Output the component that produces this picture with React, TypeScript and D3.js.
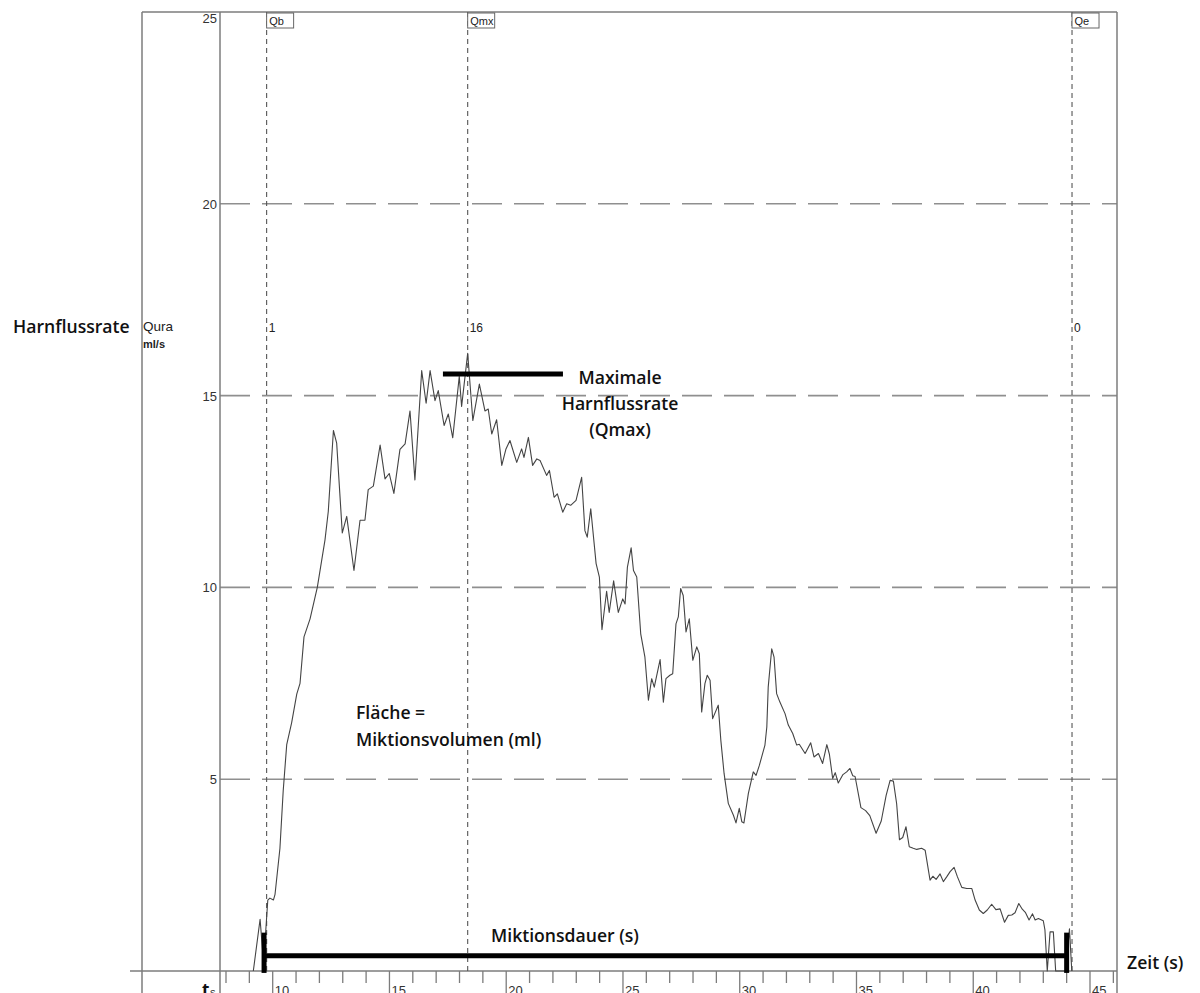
import React from 'react';
import * as d3 from 'd3';

// Uroflowmetry trace: time (s) vs. urine flow rate (ml/s)
const timeS = [
  9.17, 9.46, 9.61, 9.79, 9.88, 10.03, 10.1, 10.31, 10.45, 10.6, 10.81, 11.03, 11.17, 11.34, 11.6, 11.91,
  12.24, 12.38, 12.6, 12.74, 12.98, 13.17, 13.48, 13.74, 13.95, 14.09, 14.31, 14.6, 14.81, 14.99, 15.19,
  15.45, 15.67, 15.88, 16.09, 16.38, 16.57, 16.74, 16.95, 17.09, 17.34, 17.52, 17.71, 17.99, 18.09, 18.35,
  18.57, 18.85, 19.09, 19.23, 19.38, 19.59, 19.81, 19.99, 20.16, 20.45, 20.66, 20.76, 20.95, 21.13, 21.31,
  21.45, 21.73, 21.85, 22.05, 22.19, 22.42, 22.59, 22.76, 22.99, 23.23, 23.37, 23.47, 23.62, 23.85, 23.99,
  24.1, 24.3, 24.41, 24.6, 24.8, 24.99, 25.09, 25.19, 25.35, 25.45, 25.59, 25.76, 25.94, 26.09, 26.23,
  26.34, 26.59, 26.73, 26.84, 27.01, 27.13, 27.27, 27.37, 27.47, 27.58, 27.7, 27.84, 27.99, 28.16, 28.27,
  28.37, 28.51, 28.61, 28.73, 28.84, 29.08, 29.19, 29.33, 29.51, 29.73, 29.84, 29.98, 30.09, 30.18, 30.37,
  30.58, 30.7, 30.84, 31.08, 31.16, 31.22, 31.37, 31.47, 31.58, 31.72, 31.94, 32.08, 32.27, 32.44, 32.55,
  32.8, 33.04, 33.18, 33.37, 33.55, 33.73, 33.84, 33.98, 34.09, 34.22, 34.42, 34.58, 34.72, 34.84, 34.94,
  35.19, 35.39, 35.57, 35.84, 36.06, 36.27, 36.44, 36.58, 36.72, 36.84, 36.98, 37.12, 37.26, 37.43, 37.58,
  37.79, 37.94, 38.15, 38.27, 38.41, 38.58, 38.72, 38.87, 39.01, 39.18, 39.32, 39.51, 39.72, 39.94, 40.08,
  40.26, 40.43, 40.6, 40.79, 40.97, 41.15, 41.34, 41.5, 41.65, 41.79, 41.95, 42.1, 42.24, 42.39, 42.54,
  42.65, 42.79, 43.0, 43.07, 43.17, 43.29, 43.43, 43.53, 43.97, 44.12, 44.22,
];

const flowMlS = [
  0, 1.35, 0.2, 1.85, 1.9, 1.85, 2.0, 3.2, 4.7, 5.9, 6.47, 7.22, 7.5, 8.71, 9.18, 10.0,
  11.24, 11.98, 14.09, 13.76, 11.42, 11.85, 10.44, 11.75, 11.75, 12.55, 12.64, 13.71, 12.83, 12.97, 12.45,
  13.6, 13.74, 14.6, 12.8, 15.65, 14.8, 15.65, 14.87, 15.13, 14.22, 14.52, 13.9, 15.5, 14.72, 16.1,
  14.35, 15.3, 14.6, 14.65, 14.0, 14.37, 13.18, 13.61, 13.83, 13.26, 13.61, 13.39, 13.91, 13.18, 13.35,
  13.31, 12.92, 13.05, 12.35, 12.44, 11.96, 12.18, 12.14, 12.27, 12.87, 11.48, 11.31, 12.05, 10.62, 10.27,
  8.9, 9.9, 9.35, 10.17, 9.35, 9.7, 9.57, 10.53, 11.03, 10.44, 10.27, 8.79, 8.18, 7.06, 7.62,
  7.4, 8.12, 7.01, 7.62, 7.71, 7.75, 9.05, 9.23, 9.97, 9.79, 8.84, 9.18, 8.1, 8.45, 8.27,
  6.75, 7.49, 7.71, 7.58, 6.58, 6.93, 6.02, 5.15, 4.37, 4.06, 3.86, 4.24, 3.89, 3.86, 4.63,
  5.19, 5.1, 5.36, 5.89, 6.36, 7.4, 8.4, 8.18, 7.23, 7.01, 6.71, 6.41, 6.19, 5.89, 5.91,
  5.67, 5.95, 5.58, 5.67, 5.41, 5.9, 5.65, 5.02, 5.17, 4.9, 5.12, 5.19, 5.28, 5.09, 5.07,
  4.26, 4.18, 4.05, 3.59, 3.91, 4.58, 4.97, 4.95, 4.36, 3.42, 3.48, 3.76, 3.24, 3.2, 3.17,
  3.2, 3.15, 2.37, 2.47, 2.39, 2.53, 2.33, 2.46, 2.59, 2.7, 2.46, 2.18, 2.15, 2.15, 1.85,
  1.59, 1.5, 1.59, 1.74, 1.6, 1.62, 1.27, 1.45, 1.46, 1.52, 1.76, 1.61, 1.52, 1.33, 1.49,
  1.33, 1.37, 1.31, 1.07, 0, 1.02, 1.02, 0, 0, 1.1, 0,
];

const yTicks = [5, 10, 15, 20, 25];
const yGridValues = [5, 10, 15, 20];
const xMajorTicks = [10, 15, 20, 25, 30, 35, 40, 45];
const xMinorTicks = d3.range(8, 47);

// Event markers: flow begin, maximum flow, flow end
const markerLabels = ['Qb', 'Qmx', 'Qe'];
const markerTimes = [9.74, 18.35, 44.23];
const markerValues = ['1', '16', '0'];

// Qmax bar and voiding duration bar
const qmaxLevel = 15.56;
const qmaxFrom = 17.29;
const qmaxTo = 22.43;
const voidStart = 9.63;
const voidEnd = 44.0;
const durationLevel = 0.4;
const durationCapLow = -0.05;
const durationCapHigh = 1.0;

const W = 1200;
const H = 993;
const FRAME_LEFT = 142;
const AXIS_X = 220;
const FRAME_RIGHT = 1117;
const FRAME_TOP = 12;
const AXIS_Y = 971;

const ANNO_FONT = '"Open Sans", "Noto Sans", sans-serif';
const NUM_FONT = '"Liberation Sans", Arial, sans-serif';

export default function App() {
  const x = d3.scaleLinear().domain([10, 45]).range([272.7, 1090]);
  const y = d3.scaleLinear().domain([0, 25]).range([AXIS_Y, FRAME_TOP]);

  const line = d3
    .line<number>()
    .x((_, i) => x(timeS[i]))
    .y((d) => y(d));
  const path = line(flowMlS) || '';

  const frameColor = '#7c7c7c';
  const gridColor = '#8f8f8f';

  return (
    <svg
      width={W}
      height={H}
      style={{ position: 'absolute', left: 0, top: 0, background: '#fff' }}
    >
      {/* horizontal dashed gridlines */}
      {yGridValues.map((v) => (
        <line
          key={'g' + v}
          x1={AXIS_X}
          x2={FRAME_RIGHT}
          y1={y(v)}
          y2={y(v)}
          stroke={gridColor}
          strokeWidth={1.6}
          strokeDasharray="30 12"
        />
      ))}

      {/* frame and axes */}
      <line x1={FRAME_LEFT} x2={FRAME_RIGHT} y1={FRAME_TOP} y2={FRAME_TOP} stroke={frameColor} strokeWidth={1.5} />
      <line x1={FRAME_LEFT} x2={FRAME_LEFT} y1={FRAME_TOP} y2={H} stroke={frameColor} strokeWidth={1.5} />
      <line x1={AXIS_X} x2={AXIS_X} y1={FRAME_TOP} y2={H} stroke={frameColor} strokeWidth={1.5} />
      <line x1={FRAME_RIGHT} x2={FRAME_RIGHT} y1={FRAME_TOP} y2={H} stroke={frameColor} strokeWidth={1.5} />
      <line x1={130} x2={FRAME_RIGHT} y1={AXIS_Y} y2={AXIS_Y} stroke={frameColor} strokeWidth={1.5} />

      {/* y tick labels */}
      {yTicks.map((v) => (
        <text
          key={'yt' + v}
          x={AXIS_X - 3}
          y={Math.max(y(v), 18) + 5}
          textAnchor="end"
          fontFamily={NUM_FONT}
          fontSize={13}
          fill="#333"
        >
          {v}
        </text>
      ))}

      {/* x ticks */}
      {xMinorTicks.map((t) => (
        <line
          key={'xm' + t}
          x1={x(t)}
          x2={x(t)}
          y1={AXIS_Y}
          y2={xMajorTicks.includes(t) ? H : AXIS_Y + 12}
          stroke={frameColor}
          strokeWidth={1.3}
        />
      ))}
      {xMajorTicks.map((t) => (
        <text key={'xl' + t} x={x(t) + 2} y={995} fontFamily={NUM_FONT} fontSize={13} fill="#333">
          {t}
        </text>
      ))}
      <text x={202} y={996} fontFamily={ANNO_FONT} fontWeight={700} fontSize={17} fill="#111">
        t
      </text>
      <text x={210} y={996} fontFamily={NUM_FONT} fontSize={11} fill="#333">
        s
      </text>

      {/* event marker lines */}
      {markerLabels.map((lab, i) => {
        const mx = x(markerTimes[i]);
        return (
          <g key={lab}>
            <line
              x1={mx}
              x2={mx}
              y1={FRAME_TOP}
              y2={AXIS_Y}
              stroke="#555"
              strokeWidth={1.1}
              strokeDasharray="5 4"
            />
            <rect x={mx} y={FRAME_TOP + 1} width={27} height={15} fill="#fff" stroke="#666" strokeWidth={1} />
            <text x={mx + 2.5} y={FRAME_TOP + 12.5} fontFamily={NUM_FONT} fontSize={11} fill="#222">
              {lab}
            </text>
            <text x={mx + 2} y={332} fontFamily={NUM_FONT} fontSize={12} fill="#222">
              {markerValues[i]}
            </text>
          </g>
        );
      })}

      {/* flow curve */}
      <path d={path} fill="none" stroke="#444" strokeWidth={1.1} strokeLinejoin="round" />

      {/* Qmax bar */}
      <line x1={x(qmaxFrom)} x2={x(qmaxTo)} y1={y(qmaxLevel)} y2={y(qmaxLevel)} stroke="#000" strokeWidth={5} />

      {/* voiding duration bar with end caps */}
      <line x1={x(voidStart)} x2={x(voidEnd)} y1={y(durationLevel)} y2={y(durationLevel)} stroke="#000" strokeWidth={5} />
      <line x1={x(voidStart)} x2={x(voidStart)} y1={y(durationCapLow)} y2={y(durationCapHigh)} stroke="#000" strokeWidth={5} />
      <line x1={x(voidEnd)} x2={x(voidEnd)} y1={y(durationCapLow)} y2={y(durationCapHigh)} stroke="#000" strokeWidth={5} />

      {/* axis captions */}
      <text x={13} y={333} fontFamily={ANNO_FONT} fontWeight={600} fontSize={17.6} fill="#111">
        Harnflussrate
      </text>
      <text x={143} y={331} fontFamily={NUM_FONT} fontSize={13.5} fill="#222">
        Qura
      </text>
      <text x={143} y={348} fontFamily={NUM_FONT} fontWeight={700} fontSize={11} fill="#222">
        ml/s
      </text>
      <text x={1127} y={969} fontFamily={ANNO_FONT} fontWeight={600} fontSize={17.6} fill="#111">
        Zeit (s)
      </text>

      {/* annotations */}
      <g fontFamily={ANNO_FONT} fontWeight={600} fontSize={17.6} fill="#111" textAnchor="middle">
        <text x={620} y={384}>Maximale</text>
        <text x={620} y={410}>Harnflussrate</text>
        <text x={620} y={436}>(Qmax)</text>
        <text x={565} y={942}>Miktionsdauer (s)</text>
      </g>
      <g fontFamily={ANNO_FONT} fontWeight={600} fontSize={17.6} fill="#111">
        <text x={356} y={719}>Fläche =</text>
        <text x={356} y={746}>Miktionsvolumen (ml)</text>
      </g>
    </svg>
  );
}
